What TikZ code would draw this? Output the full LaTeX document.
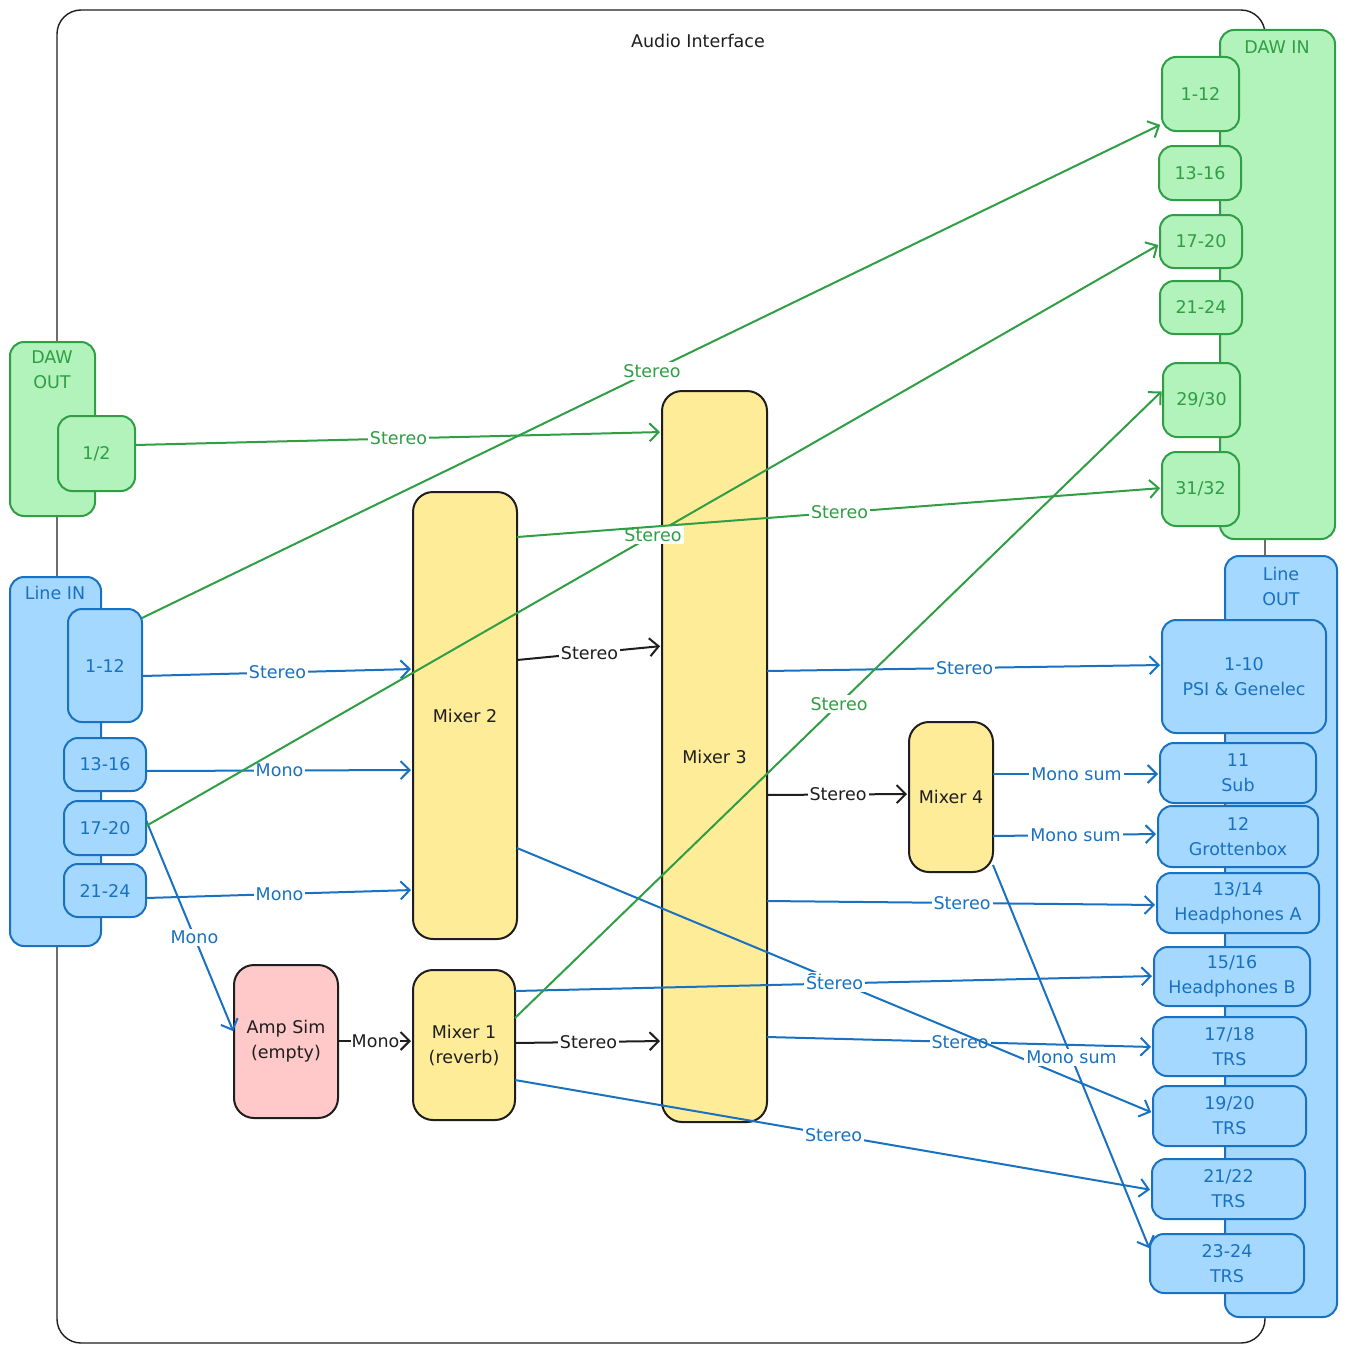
\documentclass[tikz,border=0pt]{standalone}
\usepackage{fontspec}
\setmainfont{DejaVu Sans}
\usetikzlibrary{arrows.meta}
\definecolor{gS}{HTML}{2F9E44}
\definecolor{gF}{HTML}{B2F2BB}
\definecolor{bS}{HTML}{1971C2}
\definecolor{bF}{HTML}{A5D8FF}
\definecolor{yF}{HTML}{FFEC99}
\definecolor{rF}{HTML}{FFC9C9}
\definecolor{kS}{HTML}{1E1E1E}
\newcommand\mkbox[7]{\node[#1, minimum width={(#5-#3)*1pt}, minimum height={(#6-#4)*1pt}] (#2) at ({(#3+#5)/2},{(#4+#6)/2}) {#7};}
\begin{document}
\begin{tikzpicture}[x=1pt,y=-1pt,
  txt/.style={font=\fontsize{17.5}{25}\selectfont, align=center},
  basebox/.style={line width=2pt, inner sep=0pt, outer sep=0pt, txt},
  gbox/.style={basebox, draw=gS, fill=gF, text=gS, rounded corners=14pt},
  bbox/.style={basebox, draw=bS, fill=bF, text=bS, rounded corners=14pt},
  ybox/.style={basebox, draw=kS, fill=yF, text=kS, rounded corners=20pt},
  rbox/.style={basebox, draw=kS, fill=rF, text=kS, rounded corners=20pt},
  framebox/.style={draw=kS, line width=1.4pt, rounded corners=24pt, inner sep=0pt},
  conn/.style={line width=2pt, -{Straight Barb[length=9pt,width=18pt]}, shorten >=2pt},
  garr/.style={conn, draw=gS},
  barr/.style={conn, draw=bS},
  karr/.style={conn, draw=kS},
  lbl/.style={txt, fill=white, inner sep=2pt},
  glbl/.style={lbl, text=gS},
  blbl/.style={lbl, text=bS},
  klbl/.style={lbl, text=kS},
]
\useasboundingbox (0,0) rectangle (1347,1354);
% frame
\mkbox{framebox}{frame}{57}{10}{1265}{1343}{}
\node[txt, text=kS] (aititle) at (698,41) {Audio Interface};
% DAW OUT
\mkbox{gbox}{dout}{10}{342}{95}{516}{}
\node[txt, text=gS] (douttitle) at (52,370) {DAW\\OUT};
\mkbox{gbox}{dout12}{58}{416}{135}{491}{1/2}
% Line IN
\mkbox{bbox}{lin}{10}{577}{101}{946}{}
\node[txt, text=bS] (lintitle) at (55,593) {Line IN};
\mkbox{bbox}{lin112}{68}{609}{142}{722}{1-12}
\mkbox{bbox}{lin1316}{64}{738}{146}{791}{13-16}
\mkbox{bbox}{lin1720}{64}{801}{146}{855}{17-20}
\mkbox{bbox}{lin2124}{64}{864}{146}{917}{21-24}
% DAW IN
\mkbox{gbox}{din}{1220}{30}{1335}{539}{}
\node[txt, text=gS] (dintitle) at (1277,47) {DAW IN};
\mkbox{gbox}{din112}{1162}{57}{1239}{131}{1-12}
\mkbox{gbox}{din1316}{1159}{146}{1241}{200}{13-16}
\mkbox{gbox}{din1720}{1160}{215}{1242}{268}{17-20}
\mkbox{gbox}{din2124}{1160}{281}{1242}{334}{21-24}
\mkbox{gbox}{din2930}{1163}{363}{1240}{437}{29/30}
\mkbox{gbox}{din3132}{1162}{452}{1239}{526}{31/32}
% Line OUT
\mkbox{bbox}{lout}{1225}{556}{1337}{1317}{}
\node[txt, text=bS] (louttitle) at (1281,586) {Line\\OUT};
\mkbox{bbox}{lo110}{1162}{620}{1326}{733}{1-10\\PSI \& Genelec}
\mkbox{bbox}{lo11}{1160}{743}{1316}{803}{11\\Sub}
\mkbox{bbox}{lo12}{1158}{806}{1318}{867}{12\\Grottenbox}
\mkbox{bbox}{lo1314}{1157}{873}{1319}{933}{13/14\\Headphones A}
\mkbox{bbox}{lo1516}{1154}{947}{1310}{1006}{15/16\\Headphones B}
\mkbox{bbox}{lo1718}{1153}{1017}{1306}{1076}{17/18\\TRS}
\mkbox{bbox}{lo1920}{1153}{1086}{1306}{1146}{19/20\\TRS}
\mkbox{bbox}{lo2122}{1152}{1159}{1305}{1219}{21/22\\TRS}
\mkbox{bbox}{lo2324}{1150}{1234}{1304}{1293}{23-24\\TRS}
% mixers
\mkbox{ybox}{mix2}{413}{492}{517}{939}{Mixer 2}
\mkbox{ybox}{mix3}{662}{391}{767}{1122}{Mixer 3}
\mkbox{ybox}{mix4}{909}{722}{993}{872}{Mixer 4}
\mkbox{ybox}{mix1}{413}{970}{515}{1120}{Mixer 1\\(reverb)}
\mkbox{rbox}{amp}{234}{965}{338}{1118}{Amp Sim\\(empty)}
% black connectors
\draw[karr] (mix2.east |- 0,660) -- node[klbl]{Stereo} (mix3.west |- 0,646);
\draw[karr] (mix3.east |- 0,795) -- node[klbl]{Stereo} (mix4.west |- 0,794);
\draw[karr] (amp.east |- 0,1041) -- node[klbl, inner sep=1pt]{Mono} (mix1.west |- 0,1041);
\draw[karr] (mix1.east |- 0,1043) -- node[klbl]{Stereo} (mix3.west |- 0,1041);
% blue connectors
\draw[barr] (lin112.east |- 0,676) -- node[blbl]{Stereo} (mix2.west |- 0,669);
\draw[barr] (lin1316.east |- 0,771) -- node[blbl]{Mono} (mix2.west |- 0,770);
\draw[barr] (lin2124.east |- 0,898) -- node[blbl]{Mono} (mix2.west |- 0,890);
\draw[barr] (lin1720.east |- 0,820) -- node[blbl, pos=0.55]{Mono} (amp.west |- 0,1033);
\draw[barr] (mix3.east |- 0,671) -- node[blbl]{Stereo} (lo110.west |- 0,665);
\draw[barr] (mix3.east |- 0,901) -- node[blbl]{Stereo} (lo1314.west |- 0,905);
\draw[barr] (mix3.east |- 0,1037) -- node[blbl]{Stereo} (lo1718.west |- 0,1047);
\draw[barr] (mix2.east |- 0,848) -- node[blbl]{Stereo} (lo1920.west |- 0,1113);
\draw[barr] (mix1.east |- 0,991) -- node[blbl]{Stereo} (lo1516.west |- 0,976);
\draw[barr] (mix1.east |- 0,1080) -- node[blbl]{Stereo} (lo2122.west |- 0,1190);
\draw[barr] (mix4.east |- 0,774) -- node[blbl]{Mono sum} (lo11.west |- 0,774);
\draw[barr] (mix4.east |- 0,836) -- node[blbl]{Mono sum} (lo12.west |- 0,834);
\draw[barr] (mix4.east |- 0,865) -- node[blbl]{Mono sum} (lo2324.west |- 0,1250);
% green connectors
\draw[garr] (dout12.east |- 0,445) -- node[glbl]{Stereo} (mix3.west |- 0,432);
\draw[garr] (lin112.east |- 0,618) -- node[glbl]{Stereo} (din112.west |- 0,124);
\draw[garr] (lin1720.east |- 0,826) -- node[glbl]{Stereo} (din1720.west |- 0,244);
\draw[garr] (mix2.east |- 0,537) -- node[glbl]{Stereo} (din3132.west |- 0,488);
\draw[garr] (mix1.east |- 0,1018) -- node[glbl]{Stereo} (din2930.west |- 0,390);
\end{tikzpicture}
\end{document}
